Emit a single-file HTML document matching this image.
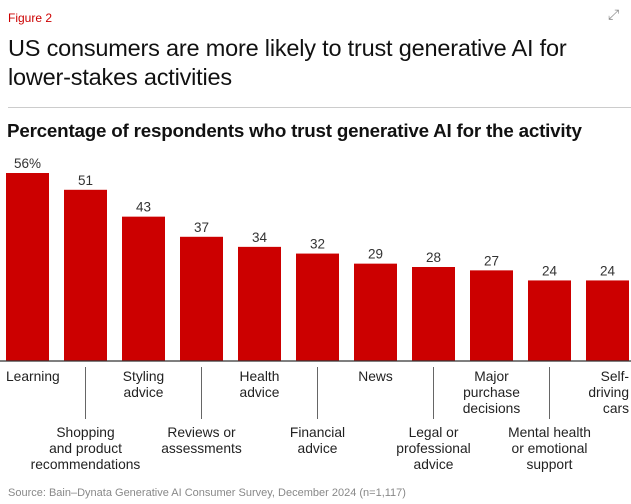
<!DOCTYPE html>
<html><head><meta charset="utf-8"><style>
body{margin:0;width:631px;height:504px;background:#fff;font-family:"Liberation Sans",sans-serif;position:relative;overflow:hidden}
.abs{position:absolute}
</style></head><body>
<div class="abs" style="left:8px;top:11px;font-size:12px;color:#cc0000">Figure 2</div>
<div class="abs" style="left:608px;top:6px;font-size:14px;color:#888">⤢</div>
<div class="abs" style="left:8px;top:34px;font-size:23.5px;line-height:29px;color:#111;width:600px;letter-spacing:-0.2px">US consumers are more likely to trust generative AI for<br>lower-stakes activities</div>
<div class="abs" style="left:8px;top:107px;width:623px;height:1px;background:#ccc"></div>
<div class="abs" style="left:7px;top:120px;font-size:18.8px;font-weight:bold;color:#111;letter-spacing:-0.2px;white-space:nowrap">Percentage of respondents who trust generative AI for the activity</div>
<svg class="abs" style="left:0;top:0" width="631" height="504" id="chart"></svg>
<div class="abs" style="left:8px;top:487px;font-size:11px;color:#888">Source: Bain–Dynata Generative AI Consumer Survey, December 2024 (n=1,117)</div>
<script>
const categories=["Learning","Shopping|and product|recommendations","Styling|advice","Reviews or|assessments","Health|advice","Financial|advice","News","Legal or|professional|advice","Major|purchase|decisions","Mental health|or emotional|support","Self-|driving|cars"];
const values=[56,51,43,37,34,32,29,28,27,24,24];
const valueLabels=["56%","51","43","37","34","32","29","28","27","24","24"];
const svg=document.getElementById('chart');
const NS="http://www.w3.org/2000/svg";
const base=361,scale=3.357,x0=6,pitch=58,bw=43;
const y=v=>base-v*scale;
const xc=i=>x0+i*pitch+bw/2;
function mk(t,a){const e=document.createElementNS(NS,t);for(const k in a)e.setAttribute(k,a[k]);svg.appendChild(e);return e;}
values.forEach((v,i)=>{
 const r=mk('rect',{x:x0+i*pitch,y:y(v),width:bw,height:v*scale,fill:'#cc0000'});
 
 
 const t=mk('text',{x:xc(i),y:y(v)-5,'text-anchor':'middle','font-size':'13.5','fill':'#333'});
 t.textContent=valueLabels[i];
 
 
 const lines=categories[i].split('|');
 const lower=i%2===1;
 const top=lower?437:381;
 if(lower){const l=mk('line',{x1:xc(i),x2:xc(i),y1:367,y2:419,stroke:'#666','stroke-width':1});
  
  }
 lines.forEach((s,j)=>{
  const anchor=i===0?'start':(i===values.length-1?'end':'middle');
  const xx=i===0?6:(i===values.length-1?629:xc(i));
  const lt=mk('text',{x:xx,y:top+j*16,'text-anchor':anchor,'font-size':'13.8','fill':'#222'});
  lt.textContent=s;
  
  
 });
});
const ax=mk('line',{x1:0,x2:631,y1:base,y2:base,stroke:'#333','stroke-width':1.2});


</script>
</body></html>
